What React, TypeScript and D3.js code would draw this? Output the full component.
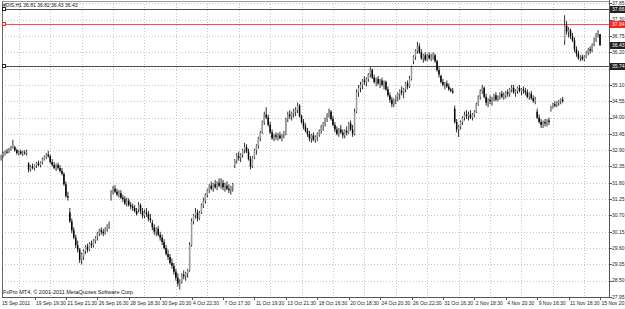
import React from "react";
import * as d3 from "d3";

// ---------- DATA (H1 bars, 7 per trading day 16:30..22:30, [open, high, low, close]) ----------
const sep15_16 = [
  [[32.60,32.75,32.55,32.70],[32.70,32.85,32.65,32.80],[32.80,32.90,32.72,32.85],[32.85,32.95,32.78,32.82],[32.82,32.98,32.80,32.95],[32.95,33.05,32.88,33.00],[33.00,33.25,32.95,33.10]],
  [[33.00,33.05,32.85,32.90],[32.90,32.95,32.75,32.80],[32.80,32.90,32.72,32.85],[32.85,32.92,32.75,32.78],[32.78,32.88,32.70,32.82],[32.82,32.90,32.75,32.80],[32.80,32.92,32.72,32.85]],
];
const sep19_23 = [
  [[32.45,32.50,32.15,32.25],[32.25,32.40,32.18,32.35],[32.35,32.45,32.25,32.30],[32.30,32.42,32.22,32.38],[32.38,32.50,32.30,32.45],[32.45,32.55,32.35,32.40],[32.40,32.52,32.32,32.48]],
  [[32.50,32.65,32.42,32.60],[32.60,32.72,32.55,32.68],[32.68,32.80,32.60,32.75],[32.75,32.88,32.65,32.70],[32.70,32.75,32.45,32.50],[32.50,32.60,32.35,32.40],[32.40,32.50,32.25,32.30]],
  [[32.30,32.45,32.20,32.40],[32.40,32.48,32.25,32.30],[32.30,32.40,32.15,32.20],[32.20,32.30,32.05,32.10],[32.10,32.15,31.70,31.75],[31.75,31.85,31.30,31.35],[31.35,31.50,31.20,31.30]],
  [[30.80,30.95,30.45,30.50],[30.50,30.60,30.10,30.20],[30.20,30.30,29.90,29.95],[29.95,30.05,29.60,29.70],[29.70,29.85,29.45,29.55],[29.55,29.60,29.10,29.20],[29.20,29.45,29.05,29.40]],
  [[29.30,29.55,29.20,29.50],[29.50,29.70,29.40,29.65],[29.65,29.75,29.45,29.55],[29.55,29.80,29.50,29.75],[29.75,29.85,29.60,29.70],[29.70,29.90,29.62,29.85],[29.85,30.00,29.75,29.95]],
];
const sep26_30 = [
  [[30.00,30.15,29.85,30.10],[30.10,30.25,30.00,30.20],[30.20,30.30,30.05,30.15],[30.15,30.25,30.00,30.10],[30.10,30.30,30.05,30.25],[30.25,30.40,30.15,30.35],[30.35,30.50,30.25,30.45]],
  [[31.30,31.55,31.20,31.50],[31.50,31.70,31.40,31.60],[31.60,31.72,31.45,31.50],[31.50,31.60,31.35,31.40],[31.40,31.55,31.30,31.45],[31.45,31.55,31.25,31.30],[31.30,31.40,31.15,31.25]],
  [[31.25,31.35,31.05,31.10],[31.10,31.30,31.00,31.20],[31.20,31.28,31.00,31.05],[31.05,31.15,30.90,31.00],[31.00,31.10,30.85,30.95],[30.95,31.05,30.80,30.85],[30.85,30.95,30.70,30.75]],
  [[30.90,31.15,30.80,31.05],[31.05,31.10,30.75,30.85],[30.85,30.95,30.60,30.70],[30.70,30.90,30.60,30.80],[30.80,30.95,30.65,30.75],[30.75,30.85,30.50,30.60],[30.60,30.75,30.45,30.55]],
  [[30.45,30.55,30.20,30.30],[30.30,30.40,30.05,30.15],[30.15,30.30,30.00,30.25],[30.25,30.35,30.00,30.05],[30.05,30.15,29.85,29.95],[29.95,30.05,29.70,29.80],[29.80,29.90,29.55,29.60]],
];
const oct3_7 = [
  [[29.60,29.70,29.35,29.40],[29.40,29.55,29.20,29.30],[29.30,29.40,29.05,29.10],[29.10,29.25,28.90,29.00],[29.00,29.10,28.70,28.80],[28.80,28.90,28.50,28.60],[28.60,28.75,28.30,28.40]],
  [[28.40,28.55,28.20,28.45],[28.45,28.75,28.40,28.70],[28.70,28.85,28.55,28.65],[28.65,28.80,28.50,28.75],[28.75,28.90,28.60,28.85],[28.85,29.80,28.80,29.70],[29.70,30.60,29.65,30.50]],
  [[30.50,30.75,30.40,30.70],[30.70,30.95,30.60,30.80],[30.80,30.90,30.50,30.60],[30.60,30.85,30.55,30.80],[30.80,31.10,30.75,31.05],[31.05,31.30,30.95,31.20],[31.20,31.45,31.10,31.40]],
  [[31.40,31.60,31.30,31.55],[31.55,31.75,31.45,31.70],[31.70,31.85,31.55,31.60],[31.60,31.80,31.50,31.75],[31.75,31.90,31.60,31.65],[31.65,31.85,31.55,31.80],[31.80,31.95,31.65,31.70]],
  [[31.75,31.95,31.60,31.80],[31.80,31.90,31.55,31.65],[31.65,31.80,31.50,31.70],[31.70,31.85,31.55,31.60],[31.60,31.75,31.45,31.55],[31.55,31.70,31.40,31.65],[31.65,31.80,31.50,31.75]],
];
const oct10_14 = [
  [[32.40,32.60,32.30,32.55],[32.55,32.80,32.45,32.70],[32.70,32.85,32.55,32.65],[32.65,32.80,32.50,32.75],[32.75,32.95,32.65,32.90],[32.90,33.15,32.80,33.00],[33.00,33.10,32.80,32.85]],
  [[32.85,32.95,32.55,32.60],[32.60,32.70,32.25,32.35],[32.35,32.70,32.30,32.65],[32.65,32.95,32.60,32.90],[32.90,33.10,32.75,33.05],[33.05,33.35,32.95,33.30],[33.30,33.55,33.20,33.50]],
  [[33.50,33.90,33.45,33.85],[33.85,34.20,33.75,34.10],[34.10,34.35,33.95,34.00],[34.00,34.10,33.70,33.75],[33.75,33.85,33.45,33.50],[33.50,33.60,33.25,33.30],[33.30,33.45,33.20,33.40]],
  [[33.40,33.50,33.25,33.35],[33.35,33.48,33.22,33.40],[33.40,33.52,33.28,33.30],[33.30,33.45,33.20,33.42],[33.42,33.55,33.30,33.45],[33.45,34.00,33.40,33.95],[33.95,34.20,33.85,34.10]],
  [[34.10,34.25,33.95,34.05],[34.05,34.20,33.90,34.15],[34.15,34.30,34.00,34.20],[34.20,34.35,34.05,34.25],[34.25,34.50,34.15,34.40],[34.40,34.45,34.00,34.05],[34.05,34.10,33.80,33.85]],
];
const oct17_21 = [
  [[33.85,33.95,33.60,33.70],[33.70,33.80,33.50,33.55],[33.55,33.65,33.35,33.45],[33.45,33.55,33.20,33.30],[33.30,33.45,33.15,33.40],[33.40,33.50,33.20,33.25],[33.25,33.40,33.15,33.35]],
  [[33.35,33.50,33.20,33.45],[33.45,33.60,33.35,33.55],[33.55,33.75,33.45,33.70],[33.70,33.85,33.55,33.80],[33.80,34.00,33.70,33.95],[33.95,34.15,33.85,34.10],[34.10,34.30,34.00,34.20]],
  [[34.20,34.25,33.90,33.95],[33.95,34.05,33.70,33.75],[33.75,33.85,33.50,33.60],[33.60,33.70,33.40,33.45],[33.45,33.65,33.35,33.60],[33.60,33.75,33.45,33.50],[33.50,33.60,33.30,33.40]],
  [[33.40,33.60,33.30,33.55],[33.55,33.70,33.40,33.50],[33.50,33.85,33.45,33.80],[33.80,33.90,33.55,33.60],[33.60,33.75,33.35,33.45],[33.45,34.30,33.40,34.20],[34.20,34.95,34.15,34.85]],
  [[34.85,35.10,34.70,35.00],[35.00,35.20,34.85,35.10],[35.10,35.30,34.95,35.25],[35.25,35.40,35.10,35.20],[35.20,35.35,35.05,35.30],[35.30,35.50,35.20,35.45],[35.45,35.70,35.35,35.60]],
];
const oct24_28 = [
  [[35.60,35.65,35.30,35.35],[35.35,35.45,35.15,35.20],[35.20,35.35,35.05,35.30],[35.30,35.40,35.10,35.15],[35.15,35.30,35.00,35.25],[35.25,35.35,35.05,35.10],[35.10,35.25,34.95,35.20]],
  [[35.20,35.25,34.90,34.95],[34.95,35.05,34.70,34.75],[34.75,34.85,34.50,34.60],[34.60,34.70,34.35,34.45],[34.45,34.65,34.35,34.60],[34.60,34.75,34.45,34.70],[34.70,34.85,34.55,34.80]],
  [[34.80,34.95,34.60,34.90],[34.90,35.05,34.75,34.85],[34.85,35.00,34.65,34.95],[34.95,35.20,34.85,35.15],[35.15,35.25,34.95,35.05],[35.05,35.40,35.00,35.30],[35.30,35.75,35.25,35.70]],
  [[35.90,36.10,35.80,36.05],[36.05,36.30,35.95,36.25],[36.25,36.55,36.15,36.40],[36.40,36.50,36.15,36.20],[36.20,36.30,35.95,36.00],[36.00,36.15,35.85,36.10],[36.10,36.20,35.90,35.95]],
  [[35.95,36.15,35.90,36.10],[36.10,36.20,35.95,36.00],[36.00,36.15,35.90,36.05],[36.05,36.20,35.95,36.10],[36.10,36.15,35.85,35.90],[35.90,35.95,35.55,35.60],[35.60,35.70,35.35,35.45]],
];
const oct31_nov4 = [
  [[35.40,35.45,35.15,35.20],[35.20,35.30,35.05,35.10],[35.10,35.20,34.95,35.15],[35.15,35.25,35.00,35.05],[35.05,35.15,34.90,34.95],[34.95,35.00,34.85,34.90],[34.90,35.00,34.80,34.85]],
  [[34.30,34.40,33.80,33.85],[33.85,33.95,33.50,33.60],[33.60,33.75,33.35,33.70],[33.70,33.90,33.60,33.85],[33.85,34.05,33.75,34.00],[34.00,34.20,33.90,34.10],[34.10,34.25,33.95,34.05]],
  [[34.05,34.20,33.90,34.10],[34.10,34.25,33.95,34.00],[34.00,34.15,33.90,34.10],[34.10,34.25,34.00,34.20],[34.20,34.50,34.15,34.45],[34.45,34.75,34.40,34.70],[34.70,34.95,34.60,34.90]],
  [[34.90,35.10,34.80,35.00],[35.00,35.05,34.65,34.70],[34.70,34.80,34.40,34.50],[34.50,34.65,34.35,34.60],[34.60,34.75,34.45,34.55],[34.55,34.70,34.40,34.65],[34.65,34.80,34.55,34.75]],
  [[34.75,34.85,34.55,34.60],[34.60,34.75,34.55,34.70],[34.70,34.85,34.60,34.80],[34.80,34.90,34.65,34.70],[34.70,34.85,34.60,34.75],[34.75,34.90,34.65,34.85],[34.85,34.95,34.70,34.80]],
];
const nov7_11 = [
  [[34.80,35.00,34.70,34.95],[34.95,35.10,34.85,35.00],[35.00,35.10,34.80,34.85],[34.85,34.95,34.70,34.90],[34.90,35.05,34.80,35.00],[35.00,35.10,34.85,34.90],[34.90,35.00,34.75,34.95]],
  [[34.95,35.05,34.80,34.90],[34.90,35.00,34.75,34.85],[34.85,34.95,34.65,34.70],[34.70,34.85,34.60,34.80],[34.80,34.90,34.60,34.65],[34.65,34.75,34.50,34.55],[34.55,34.70,34.45,34.60]],
  [[34.20,34.30,33.95,34.00],[34.00,34.10,33.80,33.85],[33.85,33.95,33.65,33.75],[33.75,33.90,33.65,33.85],[33.85,33.95,33.70,33.80],[33.80,33.95,33.70,33.90],[33.90,34.00,33.75,33.85]],
  [[34.25,34.40,34.20,34.35],[34.35,34.50,34.30,34.45],[34.45,34.55,34.35,34.40],[34.40,34.55,34.35,34.50],[34.50,34.60,34.40,34.55],[34.55,34.65,34.45,34.60],[34.60,34.70,34.50,34.55]],
  [[36.60,37.45,36.45,37.10],[37.10,37.25,36.80,36.90],[36.90,37.05,36.70,36.95],[36.95,37.00,36.65,36.75],[36.75,36.85,36.55,36.60],[36.60,36.70,36.20,36.30],[36.30,36.40,36.05,36.15]],
];
const nov14_15 = [
  [[36.15,36.25,35.95,36.00],[36.00,36.10,35.90,36.05],[36.05,36.12,35.92,35.98],[35.98,36.10,35.90,36.05],[36.05,36.25,36.00,36.20],[36.20,36.35,36.10,36.30],[36.30,36.40,36.15,36.25]],
  [[36.25,36.50,36.20,36.45],[36.45,36.70,36.40,36.65],[36.65,36.85,36.55,36.75],[36.75,36.95,36.70,36.81],[36.81,36.82,36.43,36.43]],
];

const timeLabels = [
  "15 Sep 2011", "19 Sep 19:30", "21 Sep 21:30", "26 Sep 16:30", "28 Sep 18:30",
  "30 Sep 20:30", "4 Oct 22:30", "7 Oct 17:30", "11 Oct 19:30", "13 Oct 21:30",
  "18 Oct 16:30", "20 Oct 18:30", "24 Oct 20:30", "26 Oct 22:30", "31 Oct 16:30",
  "2 Nov 18:30", "4 Nov 20:30", "9 Nov 16:30", "11 Nov 18:30", "15 Nov 20:30",
];
// bar index of each time label (first visible bar, then every 16 bars from 19 Sep 19:30)
const timeLabelBars = [0, 17, 33, 49, 65, 81, 97, 113, 129, 145, 161, 177, 193, 209, 225, 241, 257, 273, 289, 305];
// bar index of vertical grid separators
const gridBars = [9, 25, 41, 57, 73, 89, 105, 121, 137, 153, 169, 185, 201, 217, 233, 249, 265, 281, 297];

const priceTicks = [37.85, 37.30, 36.75, 36.20, 35.65, 35.10, 34.55, 34.00, 33.45, 32.90, 32.35, 31.80, 31.25, 30.70, 30.15, 29.60, 29.05, 28.50, 27.95];
const levelPrices = [37.66, 37.14, 35.74];
const levelLabels = ["37.66", "37.04", "35.74"];
const bidPrice = 36.43;
const title = "#DIS,H1 36.81 36.82 36.43 36.43";
const copyright = "FxPro MT4, \u00A9 2001-2011 MetaQuotes Software Corp.";

// ---------- LAYOUT ----------
const W = 625, H = 309;
const left = 2, right = 609, top = 1, bottom = 297;
const levelColors = ["#222222", "#ff2020", "#222222"];
const FONT = "Liberation Sans, Arial, sans-serif";
const AX = 5.0;

export default function App() {
  const bars = [sep15_16, sep19_23, sep26_30, oct3_7, oct10_14, oct17_21, oct24_28, oct31_nov4, nov7_11, nov14_15]
    .flat(1)
    .flat(1) as number[][];

  const x = d3.scaleLinear().domain([17, 305]).range([34.5, 600]);
  const y = d3.scaleLinear().domain([27.95, 37.66]).range([297, 9]);
  const py = (p: number) => Math.round(y(p)) + 0.5;

  return (
    <svg width={W} height={H} style={{ display: "block", position: "absolute", left: 0, top: 0, background: "#fff" }}
      fontFamily={FONT}>
      <rect x={0} y={0} width={W} height={H} fill="#fff" />
      {/* grid */}
      {priceTicks.map((p, i) => (
        <line key={"hg" + i} x1={left} x2={right} y1={py(p)} y2={py(p)}
          stroke="#c4c4cc" strokeDasharray="1,2" />
      ))}
      {gridBars.map((b, i) => (
        <line key={"vg" + i} x1={Math.round(x(b)) + 0.5} x2={Math.round(x(b)) + 0.5} y1={top} y2={bottom}
          stroke="#c4c4cc" strokeDasharray="1,2" />
      ))}
      {/* frame */}
      <line x1={left + 0.5} x2={left + 0.5} y1={top} y2={bottom} stroke="#666" />
      <line x1={left} x2={right} y1={top + 0.5} y2={top + 0.5} stroke="#999" />
      <line x1={right + 0.5} x2={right + 0.5} y1={0} y2={bottom + 1} stroke="#555" />
      <line x1={left} x2={right + 1} y1={bottom + 0.5} y2={bottom + 0.5} stroke="#555" />

      {/* level lines */}
      {levelPrices.map((p, i) => (
        <g key={"lv" + i}>
          <line x1={left} x2={right} y1={py(p)} y2={py(p)} stroke={levelColors[i]} strokeOpacity={0.8} />
          <rect x={left + 0.5} y={Math.round(y(p)) - 1.5} width={3} height={3} fill="#fff" stroke={levelColors[i]} />
        </g>
      ))}

      {/* candles */}
      {bars.map((d, i) => {
        const [o, h, l, c] = d;
        const cx = x(i);
        const yTop = y(Math.max(o, c));
        const yBot = y(Math.min(o, c));
        const bull = c >= o;
        return (
          <g key={"b" + i}>
            <rect x={cx - 0.45} y={y(h)} width={0.9} height={Math.max(1, y(l) - y(h))} fill="#1a1a1a" />
            <rect x={cx - 0.75} y={yTop} width={1.5} height={Math.max(0.8, yBot - yTop)}
              fill={bull ? "#9a9a9a" : "#000"} />
          </g>
        );
      })}

      {/* price axis */}
      {priceTicks.map((p, i) => (
        <g key={"pt" + i}>
          <line x1={right} x2={right + 3} y1={py(p)} y2={py(p)} stroke="#555" />
          <text x={612} y={y(p) + 1.8} fontSize={AX} fill="#222">{p.toFixed(2)}</text>
        </g>
      ))}
      {levelPrices.map((p, i) => (
        <g key={"lb" + i}>
          <rect x={610} y={Math.round(y(p)) - 3} width={15} height={7} fill={levelColors[i]} />
          <text x={612} y={y(p) + 1.8} fontSize={AX} fill="#fff">{levelLabels[i]}</text>
        </g>
      ))}
      <rect x={610} y={Math.round(y(bidPrice)) - 3} width={15} height={7} fill="#222" />
      <text x={612} y={y(bidPrice) + 1.8} fontSize={AX} fill="#fff">{bidPrice.toFixed(2)}</text>

      {/* time axis */}
      {timeLabels.map((t, i) => (
        <g key={"tl" + i}>
          {i > 0 && <line x1={Math.round(x(timeLabelBars[i])) + 0.5} x2={Math.round(x(timeLabelBars[i])) + 0.5}
            y1={bottom} y2={bottom + 3} stroke="#555" />}
          <text x={i === 0 ? 2 : x(timeLabelBars[i]) + 1.5} y={305} fontSize={AX} fill="#222">{t}</text>
        </g>
      ))}

      {/* texts */}
      <text x={3} y={7} fontSize={5.0} fill="#111">{title}</text>
      <text x={3} y={294} fontSize={5.5} fill="#111">{copyright}</text>
    </svg>
  );
}
